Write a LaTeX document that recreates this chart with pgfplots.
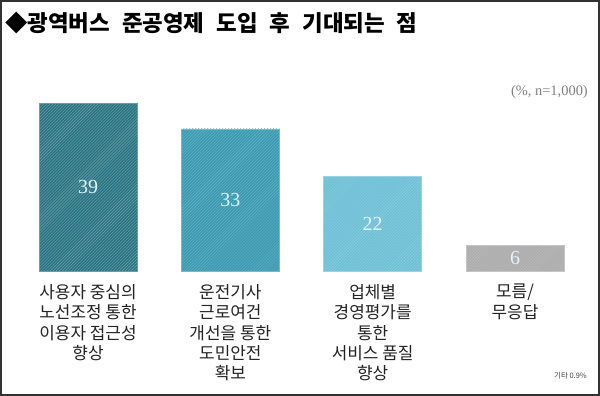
\documentclass[border=0pt]{standalone}
\usepackage{fontspec}
\usepackage{pgfplots}
\pgfplotsset{compat=1.18}
\usepackage{pgfplotstable}
\usetikzlibrary{patterns}
\setmainfont{Liberation Serif}
\newfontfamily\kr{Noto Sans CJK KR}
\definecolor{cA}{RGB}{40,115,130}
\definecolor{cB}{RGB}{60,155,178}
\definecolor{cC}{RGB}{110,192,214}
\definecolor{cD}{RGB}{172,172,172}
\definecolor{txt}{RGB}{35,35,35}

\pgfplotstableread{
x v half
0 39 19.5
1 33 16.5
2 22 11
3 6 3
}\valdata

\newcommand{\ws}{\hspace{12bp}}
\begin{document}
\begin{tikzpicture}
\useasboundingbox (0bp,0bp) rectangle (600bp,396bp);
\fill[white] (0bp,0bp) rectangle (600bp,396bp);
\draw[line width=1.6bp, black!80] (0.8bp,0.8bp) rectangle (599.2bp,395.2bp);
\node[anchor=west, inner sep=0pt, text=black] at (5bp,373.5bp) {\kr\bfseries\fontsize{22.5}{25}\selectfont ◆광역버스\ws 준공영제\ws 도입\ws 후\ws 기대되는\ws 점};
\node[anchor=east, inner sep=0pt, text=black!50] at (588bp,304bp) {\fontsize{14.5}{16}\selectfont (\%, n=1,000)};
\node[anchor=east, inner sep=0pt, text=black!75] at (587bp,20bp) {\kr\fontsize{7.5}{9}\selectfont 기타 0.9\%};
\begin{axis}[
  at={(88bp,125bp)}, anchor=origin,
  scale only axis, width=600bp, height=168bp,
  xmin=-0.6183, xmax=3.597, ymin=0, ymax=39,
  clip=false,
  axis line style={draw=none},
  tick style={draw=none},
  major tick length=0pt,
  ytick=\empty,
  xtick={0,1,2,3},
  xticklabels={{사용자 중심의\\노선조정 통한\\이용자 접근성\\향상},
               {운전기사\\근로여건\\개선을 통한\\도민안전\\확보},
               {업체별\\경영평가를\\통한\\서비스 품질\\향상},
               {모름/\\무응답}},
  xticklabel style={align=center, anchor=north, inner sep=0pt, yshift=-13bp,
     text=txt, font=\kr\fontsize{17}{20.5}\selectfont},
]
\addplot[ybar, bar width=0.6885, bar shift=0pt, fill=cA, draw=cA!70!white,
  postaction={pattern=north east lines, pattern color=white!35!cA}] coordinates {(0,39)};
\addplot[ybar, bar width=0.6885, bar shift=0pt, fill=cB, draw=cB!70!white,
  postaction={pattern=north east lines, pattern color=white!22!cB}] coordinates {(1,33)};
\addplot[ybar, bar width=0.6885, bar shift=0pt, fill=cC, draw=cC!70!white,
  postaction={pattern=north east lines, pattern color=white!22!cC}] coordinates {(2,22)};
\addplot[ybar, bar width=0.6885, bar shift=0pt, fill=cD, draw=cD!70!white,
  postaction={pattern=north east lines, pattern color=white!22!cD}] coordinates {(3,6)};
\addplot[draw=none, mark=none, nodes near coords, point meta=explicit symbolic,
  nodes near coords style={anchor=center, text=white!88!cyan, font=\fontsize{20}{22}\selectfont}]
  table[x=x, y=half, meta=v] {\valdata};
\end{axis}
\end{tikzpicture}
\end{document}
